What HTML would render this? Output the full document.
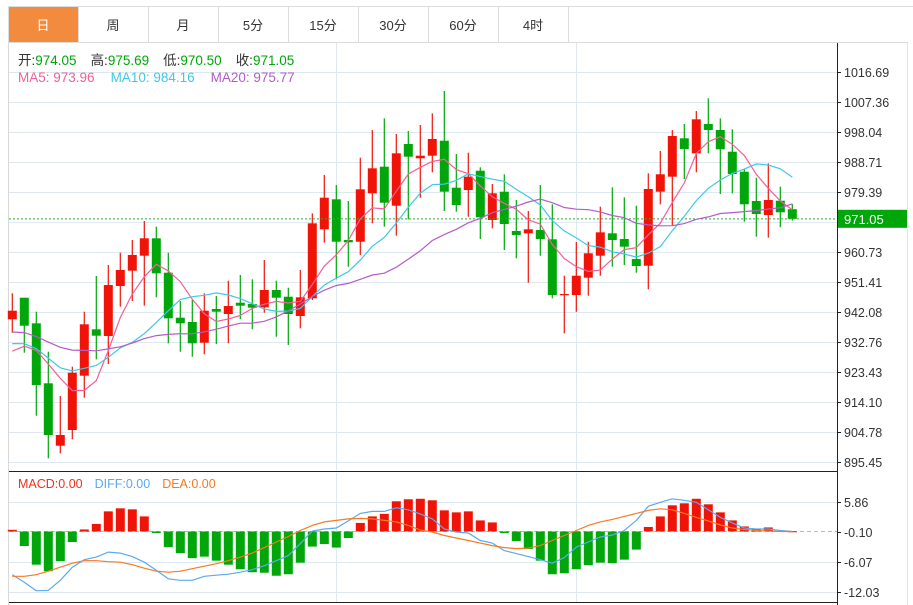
<!DOCTYPE html>
<html><head><meta charset="utf-8"><style>
body{margin:0;background:#fff;width:913px;height:605px;overflow:hidden;font-family:"Liberation Sans","Noto Sans CJK SC",sans-serif;}
svg{display:block}
</style></head><body>
<svg id="chart" width="913" height="605" xmlns="http://www.w3.org/2000/svg">
<g id="tabs"></g>
<g id="grid"></g>
<g id="candles"></g>
<g id="malines"></g>
<g id="macd"></g>
<g id="axes"></g>
<g id="legend"></g>
</svg>
<script>
const opens=[939.81,946.52,938.56,919.91,900.51,905.40,922.28,936.70,934.62,950.16,954.92,959.58,964.99,954.30,940.31,938.97,932.53,943.01,941.46,944.97,944.57,943.54,948.92,946.83,940.84,946.34,967.79,977.11,964.46,963.93,978.98,987.25,975.12,994.30,989.86,990.67,995.33,980.72,980.00,986.00,970.68,979.48,967.26,966.54,967.57,964.68,947.36,947.36,952.74,959.58,966.54,964.77,958.55,956.47,979.48,984.14,996.08,991.41,1000.52,998.66,991.91,985.69,976.59,972.23,976.68,974.05];
const highs=[947.89,946.52,942.17,929.74,915.97,925.07,942.17,953.27,956.69,960.51,964.46,970.37,968.60,960.51,945.50,945.81,947.89,947.05,951.81,953.58,952.24,958.24,951.81,949.63,955.14,972.76,984.67,981.56,976.59,990.05,998.66,1002.29,997.41,998.35,1000.21,1003.85,1010.78,991.20,991.60,987.06,981.87,984.89,976.90,973.48,981.56,975.56,953.36,963.84,963.93,974.81,980.84,977.73,975.12,985.20,992.13,998.66,1000.52,1004.56,1008.51,1002.29,998.87,986.44,983.83,988.30,981.03,975.69];
const lows=[935.64,929.42,909.84,896.60,898.15,902.50,915.44,927.37,925.91,943.73,945.50,944.04,946.65,932.35,929.74,928.18,928.93,932.13,932.35,939.81,936.70,941.86,934.40,931.82,937.01,945.81,963.62,952.24,956.16,959.80,969.65,968.60,965.80,970.90,977.61,985.51,973.48,973.26,971.70,964.77,968.10,961.35,958.77,951.19,959.58,946.34,935.46,942.17,947.15,953.36,956.16,956.69,954.30,949.13,975.56,969.12,983.42,985.51,991.41,978.76,978.98,970.15,965.49,965.18,968.41,970.50];
const closes=[942.48,937.82,919.39,903.84,903.84,923.21,938.25,934.71,950.47,955.14,959.80,964.99,954.11,940.12,938.56,932.35,942.48,942.17,943.94,944.04,943.42,948.92,946.52,941.46,946.65,969.65,977.61,963.93,963.75,980.22,986.75,976.06,991.41,990.36,990.67,995.86,979.48,975.34,984.14,971.52,978.98,969.44,966.02,967.79,964.77,947.36,947.67,953.36,960.33,966.85,964.46,962.38,956.38,980.32,984.89,996.79,992.75,1001.98,998.66,992.66,984.98,975.56,972.54,976.90,973.07,971.05];
const priorCloses=[942,944,938,936,941,940,937,939,942,936,938,935,933,934,933,930,926,925,926];
const macdHist=[0.33,-2.9,-6.6,-7.9,-5.9,-2.1,0.4,1.5,4.0,4.6,4.4,3.0,-0.3,-3.1,-4.3,-5.3,-5.0,-5.8,-6.6,-7.5,-8.1,-8.2,-8.8,-8.5,-6.2,-3.0,-2.5,-3.2,-1.3,1.7,3.0,3.5,6.0,6.4,6.5,6.2,4.2,3.8,4.0,2.2,1.8,-0.3,-1.9,-3.5,-5.8,-8.5,-8.3,-7.5,-6.7,-6.2,-6.3,-5.6,-3.6,0.9,3.0,5.2,5.6,6.5,5.4,3.8,2.2,1.0,0.5,0.8,0.1,0.05];
const diffLine=[-8.6,-10.1,-11.8,-11.7,-9.7,-7.1,-5.6,-5.1,-4.1,-4.3,-5.0,-6.1,-7.7,-9.4,-9.7,-9.7,-8.9,-8.7,-8.5,-8.1,-7.6,-6.8,-5.8,-4.8,-2.4,0.07,0.5,0.7,2.1,3.6,4.0,4.0,4.7,4.3,3.5,2.5,0.5,-0.1,-0.3,-1.8,-2.3,-3.8,-4.4,-5.0,-5.6,-6.3,-5.2,-3.1,-2.1,-1.1,-0.7,0.2,2.2,5.0,5.8,6.5,6.2,5.8,4.3,2.8,1.7,0.7,0.5,0.5,0.2,0];
const deaLine=[-8.9,-8.9,-8.6,-7.9,-7.1,-6.3,-5.8,-5.8,-6.0,-6.1,-6.6,-7.3,-7.9,-8.1,-7.9,-7.4,-6.9,-6.4,-5.8,-5.1,-4.3,-3.2,-2.1,-1.0,0.2,1.2,1.9,2.2,2.5,2.6,2.5,2.2,1.9,1.2,0.3,-0.1,-0.8,-1.3,-1.8,-2.3,-2.8,-3.2,-3.4,-3.3,-2.8,-1.8,-0.8,0.2,1.2,1.9,2.4,3.0,3.6,4.2,4.5,4.3,3.6,2.8,2.1,1.3,0.7,0.4,0.2,0.07,0,0];
const priceTicks=[1016.69,1007.36,998.04,988.71,979.39,970.06,960.73,951.41,942.08,932.76,923.43,914.10,904.78,895.45];
const macdTicks=[5.86,-0.10,-6.07,-12.03];
const tabLabels=["日","周","月","5分","15分","30分","60分","4时"];

const NS="http://www.w3.org/2000/svg";
const RED="#f01408",GREEN="#00a60a";
function el(tag,attrs,parent){const e=document.createElementNS(NS,tag);for(const k in attrs)e.setAttribute(k,attrs[k]);parent.appendChild(e);return e;}
const PTOP=1016.69,PBOT=895.45,YT=72,YB=462;
function yP(v){return YT+(PTOP-v)*(YB-YT)/(PTOP-PBOT);}
function yM(v){return 502+(5.86-v)*90/(5.86+12.03);}
function xC(i){return 12.3+12*i;}

const tabs=document.getElementById('tabs');
el('line',{x1:8,y1:6.5,x2:913,y2:6.5,stroke:'#dcdcdc'},tabs);
tabLabels.forEach((t,i)=>{
  const r=el('rect',{x:8+70*i+0.5,y:6.5,width:70,height:36,fill:i===0?'#f28b3d':'#fff',stroke:'#dcdcdc'},tabs);
  
  
  const tx=el('text',{x:43+70*i,y:30,'text-anchor':'middle','font-size':13,fill:i===0?'#fff':'#333'},tabs);
  tx.textContent=t;
  
  
});
el('line',{x1:8,y1:42.5,x2:908,y2:42.5,stroke:'#dcdcdc'},tabs);

const grid=document.getElementById('grid');
el('line',{x1:8.5,y1:43,x2:8.5,y2:605,stroke:'#d8d8d8'},grid);
el('line',{x1:907.5,y1:43,x2:907.5,y2:605,stroke:'#e4e4e4'},grid);
priceTicks.forEach(v=>{const y=Math.round(yP(v))+0.5;el('line',{x1:9,y1:y,x2:837,y2:y,stroke:'#dde8f0'},grid);});
[5.86,-6.07,-12.03].forEach(v=>{const y=Math.round(yM(v))+0.5;el('line',{x1:9,y1:y,x2:837,y2:y,stroke:'#dde8f0'},grid);});
[336,576].forEach(x=>{el('line',{x1:x+0.5,y1:43,x2:x+0.5,y2:470,stroke:'#dde8f0'},grid);el('line',{x1:x+0.5,y1:473,x2:x+0.5,y2:602,stroke:'#dde8f0'},grid);});
el('line',{x1:9,y1:Math.round(yM(0))+0.5,x2:837,y2:Math.round(yM(0))+0.5,stroke:'#9cc4dc','stroke-dasharray':'4,3'},grid);

const cg=document.getElementById('candles');
closes.forEach((c,i)=>{
  const o=opens[i],up=c>=o,col=up?RED:GREEN,x=xC(i);
  const w=el('line',{x1:x,y1:yP(highs[i]),x2:x,y2:yP(lows[i]),stroke:col,'stroke-width':1.2},cg);
  
  
  const t=yP(Math.max(o,c)),b=yP(Math.min(o,c));
  const r=el('rect',{x:x-4.5,y:t,width:9,height:Math.max(1.2,b-t),fill:col},cg);
  
  
});
const lp=closes[closes.length-1];
el('line',{x1:9,y1:yP(lp),x2:837,y2:yP(lp),stroke:'#2eaa2e','stroke-dasharray':'2,2'},cg);

const all=priorCloses.concat(closes),P=priorCloses.length;
function ma(n){return closes.map((_,i)=>{let s=0;for(let k=0;k<n;k++)s+=all[P+i-k];return s/n;});}
const mg=document.getElementById('malines');
[[5,'#f0609a'],[10,'#40c8e4'],[20,'#b45cc8']].forEach(([n,col])=>{
  const pts=ma(n).map((v,i)=>xC(i).toFixed(1)+','+yP(v).toFixed(1)).join(' ');
  const pl=el('polyline',{points:pts,fill:'none',stroke:col,'stroke-width':1.2},mg);
  
  
});

const mc=document.getElementById('macd');
macdHist.forEach((v,i)=>{
  const y0=yM(0),y1=yM(v);
  const r=el('rect',{x:xC(i)-4.5,y:Math.min(y0,y1),width:9,height:Math.max(1,Math.abs(y1-y0)),fill:v>=0?RED:GREEN},mc);
  
  
});
[[diffLine,'#5aaaf0','diff-line'],[deaLine,'#f77a22','dea-line']].forEach(([arr,col,nm])=>{
  const pl=el('polyline',{points:arr.map((v,i)=>xC(i).toFixed(1)+','+yM(v).toFixed(1)).join(' '),fill:'none',stroke:col,'stroke-width':1.2},mc);
  
  
});

const ax=document.getElementById('axes');
el('line',{x1:837.5,y1:43,x2:837.5,y2:605,stroke:'#222'},ax);
el('line',{x1:9,y1:471.5,x2:837,y2:471.5,stroke:'#222'},ax);
el('line',{x1:9,y1:602.5,x2:837,y2:602.5,stroke:'#222'},ax);
priceTicks.forEach(v=>{
  if(Math.abs(v-lp)<4)return;
  const y=Math.round(yP(v))+0.5;
  el('line',{x1:837,y1:y,x2:841,y2:y,stroke:'#222'},ax);
  const t=el('text',{x:844,y:y+4.5,'font-size':12.5,fill:'#333'},ax);
  t.textContent=v.toFixed(2);
  
  
});
macdTicks.forEach(v=>{
  const y=Math.round(yM(v))+0.5;
  el('line',{x1:837,y1:y,x2:841,y2:y,stroke:'#222'},ax);
  const t=el('text',{x:844,y:y+4.5,'font-size':12.5,fill:'#333'},ax);
  t.textContent=v.toFixed(2);
  
  
});
const ly=yP(lp);
el('rect',{x:838,y:ly-9,width:69,height:18,fill:'#00a60a'},ax);
const lt=el('text',{x:844,y:ly+5,'font-size':13,fill:'#fff'},ax);
lt.textContent=lp.toFixed(2);


</script>
<svg style="position:absolute;left:0;top:0" width="913" height="605">
<text x="18" y="65" font-size="13.5" font-family="Liberation Sans,Noto Sans CJK SC,sans-serif"><tspan fill="#333">开:</tspan><tspan fill="#00a60a">974.05</tspan><tspan fill="#333" dx="14">高:</tspan><tspan fill="#00a60a">975.69</tspan><tspan fill="#333" dx="14">低:</tspan><tspan fill="#00a60a">970.50</tspan><tspan fill="#333" dx="14">收:</tspan><tspan fill="#00a60a">971.05</tspan></text>
<text x="18" y="82" font-size="13.5" font-family="Liberation Sans,sans-serif"><tspan fill="#f0609a">MA5: 973.96</tspan><tspan fill="#40c8e4" dx="16">MA10: 984.16</tspan><tspan fill="#b45cc8" dx="16">MA20: 975.77</tspan></text>
<text x="18" y="488" font-size="12.5" font-family="Liberation Sans,sans-serif"><tspan fill="#f0301a">MACD:0.00</tspan><tspan fill="#5aaaf0" dx="12">DIFF:0.00</tspan><tspan fill="#f77a22" dx="12">DEA:0.00</tspan></text>
</svg>
</body></html>
